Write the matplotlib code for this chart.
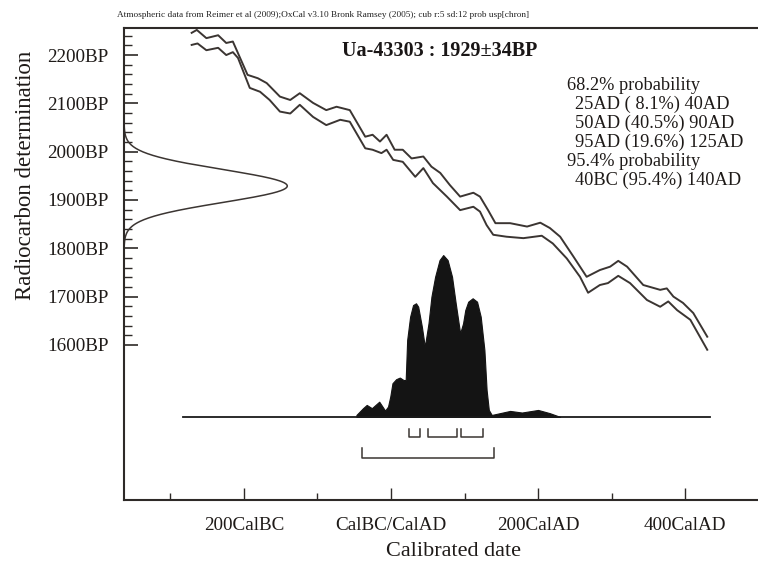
import matplotlib
matplotlib.use("Agg")
import matplotlib.pyplot as plt
import numpy as np

plt.rcParams['font.family'] = ['Liberation Serif', 'DejaVu Serif']

# ---------------- data ----------------
sample_name = "Ua-43303"
c14_age = 1929
c14_err = 34

# calibration curve (+/- 1 sigma envelope)
upper_years = [-271, -264, -251, -235, -224, -215, -195, -181, -169, -151, -137, -124, -106,
               -88, -74, -56, -35, -25, -15, -6, 5, 16, 28, 44, 55, 67, 80, 94, 112, 121,
               132, 142, 162, 185, 203, 216, 230, 248, 266, 284, 298, 309, 321, 343, 366,
               375, 384, 397, 411, 430]
upper_bp = [2246, 2252, 2235, 2241, 2225, 2228, 2159, 2152, 2142, 2114, 2107, 2121, 2101,
            2086, 2093, 2086, 2031, 2035, 2021, 2035, 2004, 2004, 1986, 1990, 1969, 1956,
            1931, 1907, 1915, 1907, 1879, 1852, 1852, 1845, 1853, 1842, 1824, 1783, 1741,
            1755, 1762, 1774, 1762, 1724, 1714, 1717, 1700, 1687, 1666, 1617]

lower_years = [-271, -263, -251, -235, -224, -215, -208, -192, -178, -165, -151, -137, -124,
               -106, -88, -69, -56, -35, -25, -13, -6, 3, 16, 33, 44, 57, 76, 94, 112, 121,
               130, 139, 157, 180, 205, 220, 239, 257, 268, 284, 295, 309, 325, 348, 366,
               377, 389, 407, 430]
lower_bp = [2221, 2224, 2210, 2215, 2200, 2206, 2194, 2132, 2124, 2107, 2083, 2079, 2097,
            2072, 2055, 2066, 2062, 2007, 2004, 1997, 2004, 1983, 1979, 1948, 1966, 1935,
            1907, 1879, 1886, 1876, 1848, 1828, 1824, 1821, 1826, 1810, 1779, 1741, 1708,
            1724, 1728, 1743, 1728, 1693, 1679, 1690, 1672, 1652, 1590]

# calibrated probability distribution (relative)
prob_years = [-47, -38, -33, -26, -16, -8, -4, -1, 2, 7, 12, 17, 20, 21, 22, 26, 30, 34, 37,
              42, 46, 51, 55, 60, 66, 71, 77, 83, 88, 94, 98, 101, 105, 111, 117, 122, 127,
              130, 133, 137, 144, 162, 178, 200, 216, 230]
prob_vals = [0.012, 0.054, 0.074, 0.054, 0.094, 0.039, 0.064, 0.125, 0.208, 0.233, 0.243,
             0.228, 0.228, 0.35, 0.475, 0.619, 0.691, 0.702, 0.681, 0.557, 0.434, 0.578,
             0.743, 0.866, 0.969, 1.0, 0.969, 0.866, 0.702, 0.517, 0.578, 0.66, 0.712, 0.733,
             0.712, 0.619, 0.414, 0.167, 0.043, 0.012, 0.019, 0.037, 0.027, 0.043, 0.023, 0.0]

# ranges
ranges_68 = [(25, 40), (50, 90), (95, 125)]
ranges_95 = [(-40, 140)]
range_texts = ["68.2% probability", "25AD ( 8.1%) 40AD", "50AD (40.5%) 90AD",
               "95AD (19.6%) 125AD", "95.4% probability", "40BC (95.4%) 140AD"]

x_major = [-200, 0, 200, 400]
x_major_labels = ["200CalBC", "CalBC/CalAD", "200CalAD", "400CalAD"]
x_minor = [-300, -100, 100, 300]
y_major = [1600, 1700, 1800, 1900, 2000, 2100, 2200]
y_major_labels = ["%dBP" % v for v in y_major]
y_minor = list(range(1600, 2241, 20))

# ---------------- figure ----------------
W, H = 758, 566
fig = plt.figure(figsize=(W / 100, H / 100), dpi=100)
ax = fig.add_axes([124 / W, 66 / H, 1 - 124 / W, (500 - 28) / H])
xmin, xmax = -363, 499
ax.set_xlim(xmin, xmax)
ax.set_ylim(1279, 2256)

line_col = "#3b3532"
ax.plot(upper_years, upper_bp, color=line_col, lw=1.4)
ax.plot(lower_years, lower_bp, color=line_col, lw=1.4)

# radiocarbon measurement on y axis
bp = np.linspace(c14_age - 4 * c14_err, c14_age + 4 * c14_err, 300)
dens = np.exp(-0.5 * ((bp - c14_age) / c14_err) ** 2)
ax.plot(xmin + dens * 222, bp, color=line_col, lw=1.1)

# calibrated distribution
base = 1451
scale = 335
ax.plot([-283, 434], [base, base], color="#1a1a1a", lw=1.3)
py = np.array(prob_years)
pv = np.array(prob_vals)
ax.fill_between(py, base, base + pv * scale, color="#141414", lw=0.8, edgecolor="#141414")

# range brackets
def bracket(x0, x1, ybot, h):
    ax.plot([x0, x0, x1, x1], [ybot + h, ybot, ybot, ybot + h], color=line_col, lw=1.1)

for a, b in ranges_68:
    bracket(a, b, 1410, 15)
for a, b in ranges_95:
    bracket(a, b, 1366, 20)

# spines / ticks
for s in ["left", "bottom", "top"]:
    ax.spines[s].set_linewidth(1.5)
    ax.spines[s].set_color("#2e2a28")
ax.spines["right"].set_visible(False)

ax.set_xticks(x_major)
ax.set_xticklabels(x_major_labels, fontsize=13.8)
ax.set_xticks(x_minor, minor=True)
ax.set_yticks(y_major)
ax.set_yticklabels(y_major_labels, fontsize=13.8)
ax.set_yticks(y_minor, minor=True)
ax.tick_params(axis="both", which="both", direction="in", colors="#2e2a28")
ax.tick_params(axis="y", which="major", length=10, width=1.2, pad=11)
ax.tick_params(axis="y", which="minor", length=6, width=1.0)
ax.tick_params(axis="x", which="major", length=9, width=1.0, pad=12)
ax.tick_params(axis="x", which="minor", length=5, width=1.0)
for t in ax.get_xticklabels() + ax.get_yticklabels():
    t.set_color("#1e1a18")

# texts
fig.text(117 / W, 1 - 15 / H,
         "Atmospheric data from Reimer et al (2009);OxCal v3.10 Bronk Ramsey (2005); cub r:5 sd:12 prob usp[chron]",
         fontsize=6.7, ha="left", va="center", color="#222")
fig.text(440 / W, 1 - 51 / H, "%s : %d\u00b1%dBP" % (sample_name, c14_age, c14_err),
         fontsize=14.5, fontweight="bold", ha="center", va="center", color="#1a1616")
ys = [85, 104, 123, 142, 161, 180]
for i, (txt, yy) in enumerate(zip(range_texts, ys)):
    xx = 567 if "probability" in txt else 575
    fig.text(xx / W, 1 - yy / H, txt, fontsize=13.2, ha="left", va="center", color="#1e1a18")

fig.text(26 / W, 1 - 175 / H, "Radiocarbon determination", rotation=90,
         fontsize=16.5, ha="center", va="center", color="#1e1a18")
fig.text(453 / W, 1 - 552 / H, "Calibrated date", fontsize=16, ha="center", va="center",
         color="#1e1a18")

fig.savefig("out.png", dpi=100, facecolor="white")
